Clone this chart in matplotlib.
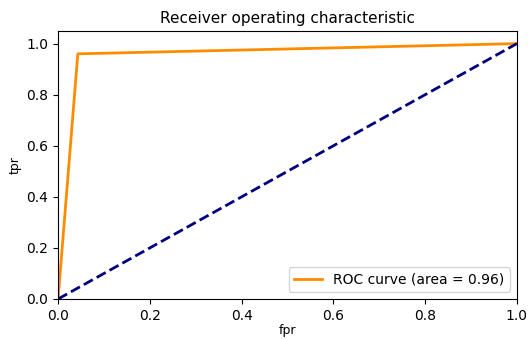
import matplotlib
matplotlib.use('Agg')
import matplotlib.pyplot as plt

fpr = [0.0, 0.043, 1.0]
tpr = [0.0, 0.96, 1.0]
roc_auc = 0.96
diag = [0, 1]

plt.rcParams['font.size'] = 10

fig = plt.figure(figsize=(5.28, 3.39), dpi=100)
ax = fig.add_axes([0.110, 0.118, 0.869, 0.791])

ax.plot(fpr, tpr, color='darkorange', lw=2, label='ROC curve (area = %0.2f)' % roc_auc)
ax.plot(diag, diag, color='navy', lw=2, linestyle='--')
ax.set_xlim([0.0, 1.0])
ax.set_ylim([0.0, 1.05])
ax.set_xlabel('fpr', fontsize=9, labelpad=1)
ax.set_ylabel('tpr', fontsize=9, labelpad=3)
ax.set_title('Receiver operating characteristic', fontsize=11)
ax.legend(loc='lower right')

plt.savefig('out.png', dpi=100)
